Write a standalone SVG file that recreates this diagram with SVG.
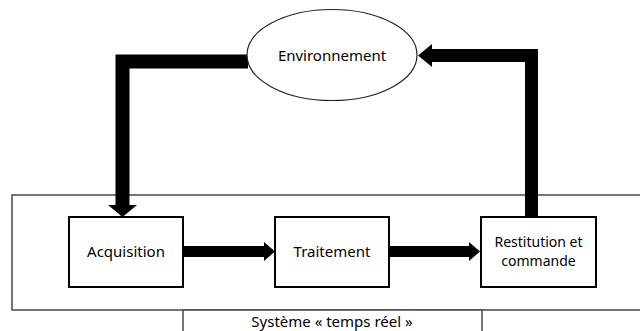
<svg xmlns="http://www.w3.org/2000/svg" width="640" height="331" viewBox="0 0 640 331">
  <style>
    .frame { fill: #fff; stroke: #4a4a4a; stroke-width: 1.5; }
    .box { fill: #fff; stroke: #000; stroke-width: 2; }
    .env { fill: #fff; stroke: #222; stroke-width: 1.2; }
    .lbl { font-family: "Noto Sans", "Open Sans", sans-serif; font-size: 15px; fill: #000; text-anchor: middle; }
    .lbl2 { font-size: 14px; }
    .wire { fill: none; stroke: #000; stroke-linejoin: miter; }
    .head { fill: #000; }
  </style>
  <rect width="640" height="331" fill="#fff"/>

  <!-- real-time system frame and its caption tab -->
  <g id="systeme">
    <rect class="frame" x="12" y="195" width="640" height="115"/>
    <rect class="frame" x="183" y="310" width="299" height="40"/>
    <text class="lbl" x="332" y="327">Système « temps réel »</text>
  </g>

  <!-- feedback loop and processing chain -->
  <g id="connectors">
    <path class="wire" stroke-width="14" d="M248,61.5 H122.5 V206"/>
    <polygon class="head" points="108,205 137,205 122.5,217"/>
    <path class="wire" stroke-width="13" d="M531.5,217 V55.5 H431"/>
    <polygon class="head" points="432,44 432,67 418,55.5"/>
    <path class="wire" stroke-width="11" d="M183,251.5 H265"/>
    <polygon class="head" points="264,242 264,261 275,251.5"/>
    <path class="wire" stroke-width="11" d="M389,251.5 H470"/>
    <polygon class="head" points="469,242 469,261 480,251.5"/>
  </g>

  <g id="environnement">
    <ellipse class="env" cx="332" cy="55" rx="85" ry="45.5"/>
    <text class="lbl" x="332" y="61">Environnement</text>
  </g>

  <g id="acquisition">
    <rect class="box" x="69" y="217" width="114" height="70"/>
    <text class="lbl" x="126" y="257">Acquisition</text>
  </g>

  <g id="traitement">
    <rect class="box" x="275" y="217" width="114" height="70"/>
    <text class="lbl" x="332" y="257">Traitement</text>
  </g>

  <g id="restitution">
    <rect class="box" x="481" y="217" width="115" height="70"/>
    <text class="lbl lbl2" x="538.5" y="246.5">Restitution et</text>
    <text class="lbl lbl2" x="538.5" y="266">commande</text>
  </g>
</svg>
